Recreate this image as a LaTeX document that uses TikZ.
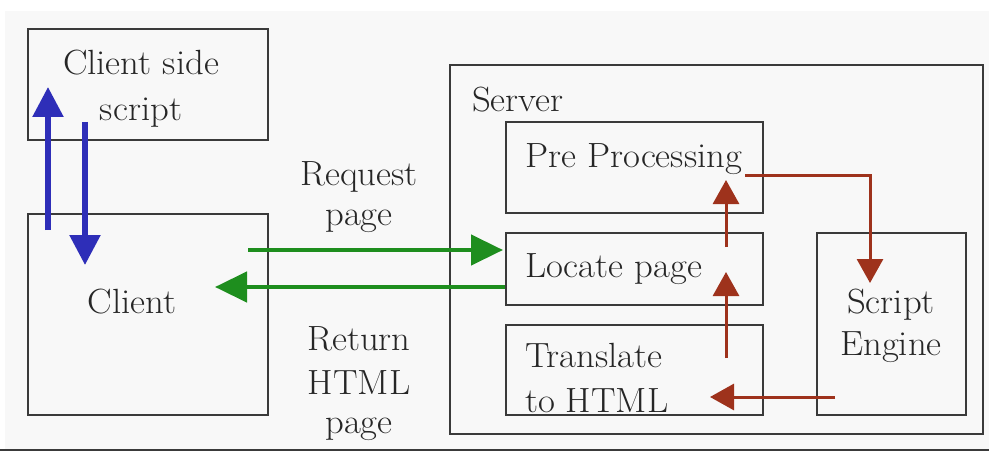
\documentclass[tikz,border=0pt]{standalone}
\usetikzlibrary{arrows.meta}
\definecolor{inkgrey}{HTML}{3A3A3A}
\definecolor{textgrey}{HTML}{262626}
\definecolor{panelgrey}{HTML}{F8F8F8}
\definecolor{clientblue}{HTML}{2E2EB8}
\definecolor{httpgreen}{HTML}{1E8E1E}
\definecolor{serverred}{HTML}{9E321C}
\tikzset{
  box/.style={draw=inkgrey, line width=2pt, inner sep=0pt, outer sep=0pt, fill=none},
  lbl/.style={text=textgrey, inner sep=0pt, outer sep=0pt, xscale=1.05,
              font=\rmfamily\fontsize{35}{40}\selectfont},
  bluearrow/.style={draw=clientblue, line width=5.5pt, -{Triangle[width=30pt,length=30pt]}},
  greenarrow/.style={draw=httpgreen, line width=4.5pt, -{Triangle[width=30pt,length=32pt]}},
  redarrow/.style={draw=serverred, line width=3pt, -{Triangle[width=26pt,length=24pt]}},
}
\begin{document}
\begin{tikzpicture}[x=1pt,y=-1pt]
  % canvas
  \useasboundingbox (0,0) rectangle (989,452);
  \fill[white] (0,0) rectangle (989,452);
  \fill[panelgrey] (5,11) rectangle (989,449);
  \draw[inkgrey, line width=2.5pt] (0,450) -- (989,450);

  % boxes
  \node[box, minimum width=240pt, minimum height=111pt] (css) at (148,84.5) {};
  \node[box, minimum width=240pt, minimum height=201pt] (client) at (148,314.5) {};
  \node[box, minimum width=533pt, minimum height=369pt] (server) at (716.5,249.5) {};
  \node[box, minimum width=257pt, minimum height=91pt] (pre) at (634.5,167.5) {};
  \node[box, minimum width=257pt, minimum height=72pt] (locate) at (634.5,269) {};
  \node[box, minimum width=257pt, minimum height=90pt] (trans) at (634.5,370) {};
  \node[box, minimum width=149pt, minimum height=182pt] (engine) at (891.5,324) {};

  % labels
  \node[lbl, anchor=base] (cssA) at (141,75) {Client side};
  \node[lbl, anchor=base] (cssB) at (141,121) {script};
  \node[lbl, anchor=base] (clientT) at (132,313) {Client};
  \node[lbl, anchor=base] (reqA) at (359,185) {Request};
  \node[lbl, anchor=base] (reqB) at (359,225) {page};
  \node[lbl, anchor=base] (retA) at (359,350) {Return};
  \node[lbl, anchor=base] (retB) at (359,394) {HTML};
  \node[lbl, anchor=base] (retC) at (359,433) {page};
  \node[lbl, anchor=base west] (serverT) at (472,112) {Server};
  \node[lbl, anchor=base west] (preT) at (525,167) {Pre Processing};
  \node[lbl, anchor=base west] (locateT) at (525,277) {Locate page};
  \node[lbl, anchor=base west] (transA) at (525,367) {Translate};
  \node[lbl, anchor=base west] (transB) at (525,412) {to HTML};
  \node[lbl, anchor=base] (engA) at (891,313) {Script};
  \node[lbl, anchor=base] (engB) at (891,355) {Engine};

  % connector end points
  \coordinate (upS) at (48,230);   \coordinate (upE) at (48,87);
  \coordinate (dnS) at (85,122);   \coordinate (dnE) at (85,265);
  \coordinate (reqS) at (248,250); \coordinate (reqE) at (503,250);
  \coordinate (retS) at (505,287); \coordinate (retE) at (215,287);
  \coordinate (seS) at (745,175);  \coordinate (seE) at (870,283);
  \coordinate (u1S) at (726,247);  \coordinate (u1E) at (726,180);
  \coordinate (u2S) at (726,358);  \coordinate (u2E) at (726,272);
  \coordinate (lfS) at (835,397);  \coordinate (lfE) at (710,397);

  % client <-> client side script
  \draw[bluearrow] (upS) -- (upE);
  \draw[bluearrow] (dnS) -- (dnE);

  % HTTP request / response
  \draw[greenarrow] (reqS) -- (reqE);
  \draw[greenarrow] (retS) -- (retE);

  % server pipeline
  \draw[redarrow] (seS) -| (seE);
  \draw[redarrow] (u1S) -- (u1E);
  \draw[redarrow] (u2S) -- (u2E);
  \draw[redarrow] (lfS) -- (lfE);
\end{tikzpicture}
\end{document}
